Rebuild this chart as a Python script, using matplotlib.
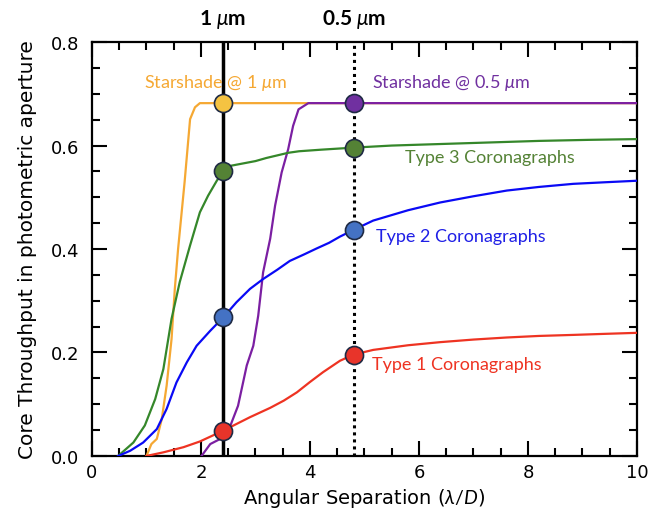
import matplotlib
matplotlib.use("Agg")
import matplotlib.pyplot as plt
from matplotlib.ticker import MultipleLocator, FormatStrFormatter

plt.rcParams['font.family'] = ['DejaVu Sans']
plt.rcParams['mathtext.fontset'] = 'custom'
plt.rcParams['mathtext.it'] = 'Lato:italic'
plt.rcParams['mathtext.rm'] = 'Lato'
plt.rcParams['mathtext.bf'] = 'Lato:bold'

# Throughput curves (x in lambda/D, y = core throughput)
ss1_x = [1.0, 1.09, 1.19, 1.28, 1.37, 1.46, 1.52, 1.58, 1.70, 1.80, 1.89, 1.98, 10.0]
ss1_y = [0.0, 0.023, 0.033, 0.071, 0.136, 0.226, 0.323, 0.40, 0.53, 0.651, 0.674,
         0.682, 0.682]

ss05_x = [2.01, 2.17, 2.41, 2.53, 2.68, 2.84, 2.96, 3.05, 3.14, 3.27, 3.36, 3.48,
          3.60, 3.69, 3.79, 3.97, 10.0]
ss05_y = [0.0, 0.023, 0.036, 0.056, 0.097, 0.175, 0.213, 0.271, 0.355, 0.42, 0.484,
          0.548, 0.593, 0.638, 0.67, 0.682, 0.682]

t3_x = [0.48, 0.76, 0.97, 1.16, 1.31, 1.46, 1.61, 1.80, 1.98, 2.13, 2.29, 2.41,
        2.55, 2.75, 3.0, 3.2, 3.4, 3.6, 3.8, 4.2, 4.5, 4.8, 5.5, 6.4, 7.3, 8.2,
        9.1, 10.0]
t3_y = [0.0, 0.026, 0.059, 0.110, 0.168, 0.265, 0.336, 0.407, 0.471, 0.503, 0.532,
        0.551, 0.561, 0.565, 0.570, 0.576, 0.581, 0.586, 0.589, 0.592, 0.594, 0.596,
        0.600, 0.603, 0.606, 0.609, 0.611, 0.6125]

t2_x = [0.48, 0.70, 0.94, 1.19, 1.37, 1.55, 1.74, 1.92, 2.17, 2.41, 2.65, 2.90,
        3.14, 3.40, 3.63, 3.90, 4.12, 4.35, 4.55, 4.80, 5.16, 5.80, 6.39, 7.0,
        7.61, 8.2, 8.83, 9.4, 10.0]
t2_y = [0.0, 0.010, 0.026, 0.052, 0.091, 0.142, 0.181, 0.213, 0.242, 0.268, 0.297,
        0.323, 0.342, 0.360, 0.377, 0.390, 0.401, 0.412, 0.424, 0.437, 0.455, 0.475,
        0.490, 0.502, 0.513, 0.520, 0.526, 0.529, 0.532]

t1_x = [1.0, 1.31, 1.68, 1.98, 2.41, 2.90, 3.27, 3.52, 3.76, 4.0, 4.24, 4.55, 4.80,
        5.16, 5.8, 6.39, 7.0, 7.61, 8.2, 8.83, 9.4, 10.0]
t1_y = [0.0, 0.007, 0.017, 0.028, 0.049, 0.075, 0.093, 0.107, 0.123, 0.143, 0.162,
        0.184, 0.196, 0.205, 0.214, 0.220, 0.225, 0.229, 0.232, 0.234, 0.236, 0.238]

# Marked operating points at the two wavelengths
sep_1um = 2.4
sep_05um = 4.8
marker_x = [2.4, 4.8, 2.4, 4.8, 2.4, 4.8, 2.4, 4.8]
marker_y = [0.682, 0.682, 0.551, 0.596, 0.268, 0.437, 0.049, 0.196]
marker_fill = ['#F5C342', '#7030A0', '#548235', '#548235',
               '#4472C4', '#4472C4', '#E8342A', '#E8342A']

fig = plt.figure(figsize=(6.5, 5.1), dpi=100)
ax = fig.add_axes([0.1415, 0.104, 0.8385, 0.8115])

lw = 1.6
ax.plot(ss1_x, ss1_y, color='#F5A833', lw=lw, zorder=3)
ax.plot(ss05_x, ss05_y, color='#7B1FA2', lw=lw, zorder=3)
ax.plot(t3_x, t3_y, color='#35872A', lw=lw, zorder=3)
ax.plot(t2_x, t2_y, color='#0A0AF5', lw=lw, zorder=3)
ax.plot(t1_x, t1_y, color='#EE3322', lw=lw, zorder=3)

ax.axvline(sep_1um, color='black', lw=2.5, zorder=2)
ax.axvline(sep_05um, color='black', lw=2.2, ls=(0, (1, 1.3)), zorder=2)

for x, y, c in zip(marker_x, marker_y, marker_fill):
    ax.plot(x, y, 'o', ms=13, mfc=c, mec='#1F2A44', mew=1.2, zorder=5)

lab = dict(fontsize=13, va='center', family=['Lato', 'DejaVu Sans'])
ax.text(0.95, 0.722, r'Starshade @ 1 $\mu$m', color='#F5A833', **lab)
ax.text(5.14, 0.722, r'Starshade @ 0.5 $\mu$m', color='#7030A0', **lab)
ax.text(5.74, 0.578, 'Type 3 Coronagraphs', color='#548235', **lab)
ax.text(5.21, 0.425, 'Type 2 Coronagraphs', color='#1F1FE6', **lab)
ax.text(5.14, 0.178, 'Type 1 Coronagraphs', color='#EE3322', **lab)

top = dict(ha='center', va='center', fontsize=15, fontweight='bold',
           family=['Lato', 'DejaVu Sans'])
ax.text(sep_1um, 0.845, r'1 $\mu$m', **top)
ax.text(sep_05um, 0.845, r'0.5 $\mu$m', **top)

ax.set_xlim(0, 10)
ax.set_ylim(0, 0.8)
ax.xaxis.set_major_locator(MultipleLocator(2))
ax.xaxis.set_minor_locator(MultipleLocator(0.5))
ax.yaxis.set_major_locator(MultipleLocator(0.2))
ax.yaxis.set_minor_locator(MultipleLocator(0.05))
ax.yaxis.set_major_formatter(FormatStrFormatter('%.1f'))
ax.tick_params(which='both', direction='in', top=True, right=True, width=1.5,
               labelsize=13)
ax.tick_params(axis='y', which='major', pad=9)
ax.tick_params(axis='x', which='major', pad=5)
ax.tick_params(which='major', length=11)
ax.tick_params(which='minor', length=6)
for s in ax.spines.values():
    s.set_linewidth(1.6)

ax.set_xlabel(r'Angular Separation ($\lambda/D$)', fontsize=14, labelpad=4)
ax.set_ylabel('Core Throughput in photometric aperture', fontsize=14.5, labelpad=10)

fig.savefig('out.png', dpi=100)
